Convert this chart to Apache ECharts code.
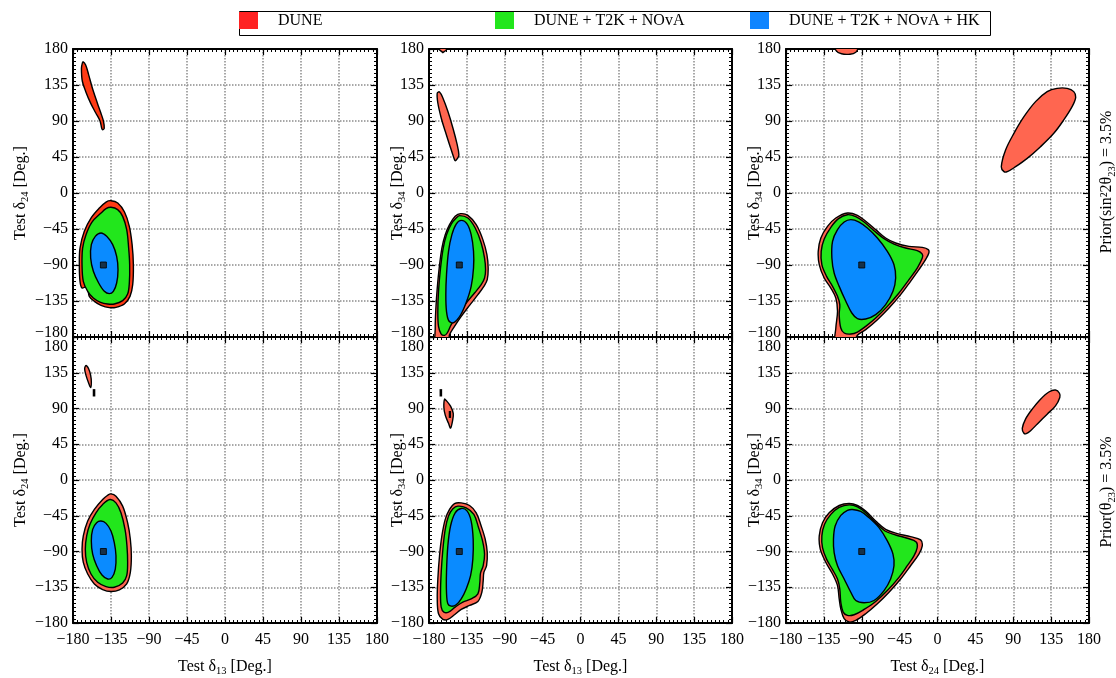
<!DOCTYPE html>
<html><head><meta charset="utf-8">
<script src="https://cdn.jsdelivr.net/npm/echarts@6/dist/echarts.min.js"></script>
<style>html,body{margin:0;padding:0;background:#fff}#c{width:1116px;height:678px}</style>
</head><body><div id="c"></div>
<script>
// ---------- data (degrees) ----------
const seriesNames = ['DUNE', 'DUNE + T2K + NOvA', 'DUNE + T2K + NOvA + HK'];
const xNames = ['Test δ{s|13} [Deg.]', 'Test δ{s|13} [Deg.]', 'Test δ{s|24} [Deg.]'];
const yNames = ['Test δ{s|24} [Deg.]', 'Test δ{s|34} [Deg.]', 'Test δ{s|34} [Deg.]'];
const rowLabels = ['Prior(sin²2θ{s|23}) = 3.5%', 'Prior(θ{s|23}) = 3.5%'];
const axisMin = -180, axisMax = 180, axisStep = 45;
const truePoints = [[[-144,-90]],[[-144,-90]],[[-90,-90]],[[-144,-90]],[[-144,-90]],[[-90,-90]]];

// Panel 1 (top-left)
const p1DuneA = [[-169,162],[-170,156],[-169,140],[-165,127],[-159,112],[-153,100],[-148,90],[-146,81],[-145,79],[-143,81],[-144,90],[-147,100],[-151,112],[-157,131],[-161.5,148],[-165,160],[-168,164]];
const p1DuneB = [[-135,-9.6],[-127,-12.5],[-119,-23.8],[-113.3,-41.7],[-110,-64.6],[-108.5,-89.6],[-109.3,-114.6],[-112.5,-129.2],[-119.2,-138.8],[-129,-142.9],[-137,-143.3],[-146.8,-140.4],[-154.7,-135.4],[-160.7,-129.2],[-162.6,-118.8],[-164.6,-117.1],[-169.3,-118.8],[-171.7,-110.4],[-172.5,-89.6],[-171.7,-68.8],[-166.6,-47.9],[-158.7,-31.3],[-148.8,-18.8],[-140.9,-11.3]];
const p1T2k = [[-135,-17.9],[-127.1,-20.8],[-121.2,-29.2],[-116.4,-45.8],[-114.1,-68.8],[-112.9,-89.6],[-113.3,-112.5],[-115.3,-126.3],[-121.2,-134.6],[-131.1,-138.8],[-138.9,-138.8],[-148,-136.3],[-155.9,-131.3],[-162.6,-122.9],[-167.8,-110.4],[-169.3,-89.6],[-168.6,-68.8],[-164.6,-52.1],[-157.5,-36.3],[-146.8,-25],[-140.9,-19.6]];
const p1Hk = [[-146.8,-50],[-140.1,-54.2],[-133,-64.6],[-128.3,-79.2],[-126.7,-95.8],[-128.3,-112.5],[-132.2,-122.9],[-137,-125.8],[-142.9,-122.9],[-149.6,-112.5],[-155.9,-97.9],[-159.1,-81.3],[-158.3,-64.6],[-153.6,-54.2]];

// Panel 2 (top-middle)
const p2DuneTop = [[-168,186],[-167.5,179],[-163.5,175.5],[-159.5,178.5],[-158.5,186]];
const p2DuneA = [[-170.2,125],[-169.5,112.5],[-165.5,93.8],[-160.7,77.1],[-155.6,60.4],[-150.4,43.8],[-148.9,40.4],[-145.7,43.8],[-144.5,47.9],[-146.5,60.4],[-151.6,81.3],[-157.6,102.1],[-163.5,118.8],[-167.5,126.3]];
const p2DuneB = [[-142.5,-25.8],[-133.8,-27.9],[-123.9,-39.6],[-116,-58.3],[-111.2,-77.1],[-109.7,-93.8],[-110.8,-108.3],[-114.8,-116.7],[-121.9,-127.1],[-131.8,-140.4],[-141.7,-154.2],[-149.7,-166.7],[-155.6,-177.1],[-157.6,-188],[-171.4,-188],[-172.6,-168.8],[-171.8,-143.8],[-170.2,-118.8],[-167.9,-93.8],[-164.7,-68.8],[-160.7,-52.1],[-155.6,-39.6],[-148.9,-29.2]];
const p2T2k = [[-143.7,-28.3],[-133.8,-31.3],[-125.1,-43.8],[-118,-62.5],[-114,-81.3],[-112.8,-95.8],[-114,-106.3],[-118,-114.6],[-125.9,-125],[-135.8,-137.5],[-145.7,-152.1],[-153.6,-164.6],[-158.4,-175],[-161.5,-177.9],[-165.5,-176.3],[-168.7,-166.7],[-169.5,-147.9],[-168.7,-122.9],[-166.3,-93.8],[-163.1,-68.8],[-159.2,-52.1],[-153.6,-38.8],[-147.7,-31.3]];
const p2Hk = [[-141.7,-34.2],[-134.6,-38.8],[-129.9,-52.1],[-127.1,-72.9],[-127.1,-93.8],[-129.9,-116.7],[-135.8,-137],[-142.7,-153],[-150.6,-162],[-156.3,-160],[-159.2,-148],[-160,-127.1],[-159.2,-102.1],[-156.8,-72.9],[-152.8,-52.1],[-147.7,-38.8]];

// Panel 3 (top-right)
const p3DuneTop = [[-121,186],[-120.5,178],[-114,174],[-104,173.5],[-97,176],[-94.5,181],[-94.5,186]];
const p3DuneA = [[79,26.7],[75.8,32.9],[80.9,53.8],[90.8,74.6],[102.7,95.4],[116.5,114.2],[130.3,126.7],[142.1,130.8],[154,130.8],[161.9,126.7],[164.2,119.6],[159.9,107.9],[150,91.3],[138.2,74.6],[122.4,57.9],[106.6,43.3],[92.8,32.9],[82.9,26.7]];
const p3DuneB = [[-107,-25],[-95.1,-27.9],[-85.3,-35.4],[-73.4,-45.8],[-61.6,-56.3],[-49.7,-62.5],[-33.9,-66.7],[-18.1,-67.9],[-11,-70.8],[-10.3,-75],[-14.2,-83.3],[-22.1,-95.8],[-32,-110.4],[-43.8,-127.1],[-57.6,-143.8],[-71.4,-158.3],[-85.3,-170.8],[-95.1,-177.9],[-101.1,-188],[-120.8,-188],[-120.8,-168.8],[-118.8,-147.9],[-120.8,-131.3],[-126.7,-118.8],[-134.6,-106.3],[-140.5,-89.6],[-141.7,-72.9],[-138.6,-56.3],[-130.7,-41.7],[-120.8,-31.3]];
const p3T2k = [[-107,-27.1],[-97.1,-29.6],[-87.2,-36.3],[-75.4,-47.1],[-63.5,-57.1],[-51.7,-63.8],[-37.9,-68.8],[-24.1,-72.1],[-18.1,-76.3],[-18.1,-81.3],[-24.1,-93.8],[-33.9,-108.3],[-45.8,-125],[-59.6,-141.7],[-73.4,-156.3],[-85.3,-166.7],[-95.1,-173.8],[-103,-176.3],[-110.9,-175],[-114.9,-168.8],[-116.8,-152.1],[-116.1,-139.6],[-118.8,-129.2],[-124.7,-116.7],[-131.8,-104.2],[-137.4,-89.6],[-138.2,-72.9],[-134.6,-57.5],[-126.7,-42.9],[-117.6,-32.1]];
const p3Hk = [[-103,-33.3],[-93.2,-36.3],[-83.3,-43.8],[-71.4,-56.3],[-59.6,-72.9],[-51.7,-89.6],[-49.7,-106.3],[-52.9,-122.9],[-61.6,-139.6],[-73.4,-152.1],[-85.3,-157.5],[-95.1,-157.1],[-101.8,-150],[-108.9,-135.4],[-116.8,-116.7],[-122.8,-100],[-125.5,-81.3],[-124.7,-60.4],[-118.8,-45.8],[-110.9,-36.3]];

// Panel 4 (bottom-left)
const p4DuneA = [[-164.6,144.2],[-161.5,140],[-159.1,131.7],[-158.3,123.3],[-159.1,116.3],[-161.5,122.1],[-164.6,131.7],[-166.2,140]];
const p4DuneDot = [[-155.8,106],[-154.4,106],[-154.4,113.5],[-155.8,113.5]];
const p4DuneB = [[-135,-17.5],[-129.1,-20.4],[-121.2,-32.9],[-115.3,-53.8],[-112.1,-74.6],[-110.9,-95.4],[-112.1,-116.3],[-116.4,-130.8],[-125.1,-138.3],[-135,-140.4],[-144.9,-137.9],[-154.7,-130.8],[-162.6,-118.3],[-167.8,-103.8],[-169.3,-87.1],[-167.8,-70.4],[-162.6,-51.7],[-154.7,-37.1],[-144.9,-24.6],[-138.9,-19.2]];
const p4T2k = [[-136.2,-24.6],[-129.1,-28.8],[-123.2,-41.3],[-118.4,-62.1],[-116.1,-82.9],[-115.3,-103.8],[-116.4,-120.4],[-121.2,-129.6],[-131.1,-135],[-140.9,-134.2],[-150.8,-128.8],[-158.7,-118.3],[-163.8,-103.8],[-165.4,-87.1],[-163.8,-70.4],[-159.9,-55.8],[-152.8,-41.3],[-144.9,-30.8]];
const p4Hk = [[-146.8,-51.7],[-140.9,-54.6],[-135,-64.2],[-131.1,-78.8],[-129.1,-95.4],[-129.9,-112.1],[-133.8,-122.5],[-138.9,-124.6],[-145.7,-119.6],[-152,-107.9],[-156.7,-93.3],[-158.3,-76.7],[-156.7,-62.1],[-152,-53.8]];

// Panel 5 (bottom-middle)
const p5DuneDot = [[-166.6,106],[-165.2,106],[-165.2,113.5],[-166.6,113.5]];
const p5DuneA = [[-161.5,101.7],[-159.2,99.6],[-154.4,92.9],[-151.2,83.8],[-152,74.6],[-154.4,65.4],[-156.8,71.3],[-160.7,81.7],[-162.3,91.3]];
const p5DuneDot2 = [[-155.7,79],[-154.6,79],[-154.6,86],[-155.7,86]];
const p5DuneB = [[-149.7,-29.6],[-141.7,-28.8],[-131.8,-32.1],[-123.9,-41.3],[-118,-57.9],[-113.2,-74.6],[-110.8,-91.3],[-111.6,-107.9],[-114.8,-116.3],[-115.6,-126.7],[-117.2,-141.3],[-121.9,-152.9],[-131.8,-157.9],[-141.7,-162.9],[-149.7,-169.6],[-157.6,-175.4],[-163.5,-175.4],[-168.7,-168.3],[-170.2,-149.6],[-169.5,-124.6],[-167.5,-95.4],[-164.7,-70.4],[-160.7,-49.6],[-155.6,-37.1]];
const p5T2k = [[-145.7,-32.9],[-135.8,-35],[-126.7,-43.3],[-121.1,-60],[-116.4,-76.7],[-114,-93.3],[-115.6,-107.9],[-118.8,-117.1],[-119.6,-128.8],[-121.9,-143.3],[-129.9,-149.6],[-139.8,-153.8],[-148.9,-160],[-156.8,-166.3],[-162.3,-166.3],[-165.5,-160],[-166.3,-141.3],[-165.5,-116.3],[-163.5,-87.1],[-160.7,-62.1],[-156.8,-45.4],[-151.6,-36.3]];
const p5Hk = [[-141.7,-35.8],[-134.6,-39.2],[-129.9,-51.7],[-127.5,-74.6],[-127.9,-99.6],[-130.6,-120.4],[-135.8,-137.1],[-141.7,-149.6],[-147.7,-157.1],[-153.6,-158.8],[-157.6,-155.8],[-159.2,-141.3],[-159.2,-116.3],[-157.6,-82.9],[-154.4,-57.9],[-148.9,-41.3]];

// Panel 6 (bottom-right)
const p6DuneA = [[102.7,58.8],[100.7,65],[104.6,76.7],[112.5,89.2],[122.4,101.7],[132.3,110.8],[140.2,113.3],[144.9,109.2],[145.3,103.8],[140.2,93.3],[130.3,82.9],[120.4,72.5],[110.6,62.1],[105.4,58.3]];
const p6DuneB = [[-105,-29.6],[-95.1,-32.1],[-85.3,-39.2],[-73.4,-51.7],[-61.6,-62.1],[-47.8,-67.5],[-32,-71.3],[-20.1,-75.4],[-18.1,-82.9],[-22.1,-93.3],[-32,-107.9],[-43.8,-124.6],[-57.6,-141.3],[-71.4,-155.8],[-85.3,-168.3],[-97.1,-176.7],[-105,-178.8],[-110.9,-174.6],[-114.9,-162.1],[-116.8,-149.6],[-118.8,-132.9],[-124.7,-118.3],[-132.6,-103.8],[-139.3,-87.1],[-140.5,-70.4],[-136.6,-53.8],[-128.7,-41.3],[-116.8,-32.1]];
const p6T2k = [[-105,-31.3],[-95.1,-33.8],[-85.3,-41.3],[-74.2,-52.9],[-62.4,-64.2],[-49.7,-69.2],[-35.9,-73.3],[-25.3,-77.9],[-24.1,-85],[-28,-95.4],[-35.9,-107.9],[-45.8,-122.5],[-59.6,-139.2],[-73.4,-152.9],[-87.2,-162.9],[-99.1,-169.6],[-107,-170.4],[-112.1,-166.3],[-114.9,-153.8],[-116.1,-137.1],[-118.8,-124.6],[-124.7,-112.9],[-131.8,-99.6],[-136.6,-85],[-137.4,-70.4],[-134.2,-55.8],[-126.7,-43.3],[-116.8,-34.6]];
const p6Hk = [[-101,-37.1],[-91.2,-39.6],[-81.3,-47.5],[-69.5,-60],[-59.6,-76.7],[-52.9,-93.3],[-51.7,-107.9],[-55.7,-124.6],[-63.5,-139.2],[-75.4,-151.7],[-87.2,-154.6],[-97.1,-151.7],[-103,-141.3],[-110.9,-124.6],[-118.8,-107.9],[-122.8,-91.3],[-123.6,-74.6],[-121.6,-57.9],[-114.9,-44.6],[-107,-38.3]];

// ---------- rendering ----------
const FONT = '"Liberation Serif", "DejaVu Serif", serif';
const FS = 16;
const C_RED1 = '#ff3a14', C_RED = '#ff6650', C_GREEN = '#22e61c', C_BLUE = '#0a8bff';
const subRich = { s: { fontSize: 10.5, fontFamily: FONT, color: '#000', verticalAlign: 'bottom', lineHeight: 21 } };
const fmt = v => (v < 0 ? '\u2212' + Math.abs(v) : String(v));

const panels = [
  { dune: [p1DuneA, p1DuneB], t2k: [p1T2k], hk: [p1Hk], red: C_RED1 },
  { dune: [p2DuneTop, p2DuneA, p2DuneB], t2k: [p2T2k], hk: [p2Hk], red: C_RED },
  { dune: [p3DuneTop, p3DuneA, p3DuneB], t2k: [p3T2k], hk: [p3Hk], red: C_RED },
  { dune: [p4DuneA, p4DuneDot, p4DuneB], t2k: [p4T2k], hk: [p4Hk], red: C_RED },
  { dune: [p5DuneDot, p5DuneA, p5DuneDot2, p5DuneB], t2k: [p5T2k], hk: [p5Hk], red: C_RED },
  { dune: [p6DuneA, p6DuneB], t2k: [p6T2k], hk: [p6Hk], red: C_RED }
];

const gridLefts = [73, 429, 786];
const gridTops = [49, 337];
const grids = [];
for (let r = 0; r < 2; r++) for (let c = 0; c < 3; c++)
  grids.push({ left: gridLefts[c], top: gridTops[r], width: c === 0 ? 304 : 303, height: 288 });

const lineStyle = { color: '#000', width: 2 };
const tickCfg = { show: true, inside: true, length: 6, lineStyle: { color: '#000', width: 1.2 } };
const minorCfg = { show: true, splitNumber: 9, length: 3, lineStyle: { color: '#000', width: 1 } };
const splitCfg = { show: true, lineStyle: { color: '#8c8c8c', type: 'dotted', width: 1.5 } };

const xAxis = [], yAxis = [];
grids.forEach((g, i) => {
  const row = Math.floor(i / 3), col = i % 3;
  const base = { type: 'value', gridIndex: i, min: axisMin, max: axisMax, interval: axisStep };
  xAxis.push({ ...base, position: 'bottom', axisLine: { onZero: false, lineStyle }, axisTick: tickCfg, minorTick: minorCfg, splitLine: splitCfg,
    axisLabel: { show: row === 1, formatter: fmt, fontFamily: FONT, fontSize: FS, color: '#000', margin: 9 },
    name: row === 1 ? xNames[col] : '', nameLocation: 'middle', nameGap: 33, nameMoveOverlap: false,
    nameTextStyle: { fontFamily: FONT, fontSize: FS, color: '#000', lineHeight: 21, rich: subRich } });
  xAxis.push({ ...base, position: 'top', axisLine: { onZero: false, lineStyle }, axisTick: tickCfg, minorTick: minorCfg, splitLine: { show: false }, axisLabel: { show: false } });
  const rich = { dn: { fontFamily: FONT, fontSize: FS, color: '#000', padding: [20, 0, 0, 0] }, up: { fontFamily: FONT, fontSize: FS, color: '#000', padding: [0, 0, 8, 0] } };
  yAxis.push({ ...base, position: 'left', axisLine: { onZero: false, lineStyle }, axisTick: tickCfg, minorTick: minorCfg, splitLine: splitCfg,
    axisLabel: { formatter: v => (row === 1 && v === 180 ? '{dn|180}' : row === 0 && v === -180 ? '{up|' + fmt(v) + '}' : fmt(v)), fontFamily: FONT, fontSize: FS, color: '#000', margin: 5, rich },
    name: yNames[col], nameLocation: 'middle', nameGap: col === 0 ? 42 : 21, nameRotate: 90, nameMoveOverlap: false,
    nameTextStyle: { fontFamily: FONT, fontSize: FS, color: '#000', lineHeight: 21, rich: subRich } });
  yAxis.push({ ...base, position: 'right', axisLine: { onZero: false, lineStyle }, axisTick: tickCfg, minorTick: minorCfg, splitLine: { show: false }, axisLabel: { show: false } });
});

function contour(name, panel, pts, fill) {
  return {
    type: 'custom', name, xAxisIndex: panel * 2, yAxisIndex: panel * 2, clip: true, silent: true,
    itemStyle: { color: fill }, data: pts, encode: { x: 0, y: 1 },
    renderItem(params, api) {
      if (params.dataIndex !== 0) return null;
      const points = pts.map(p => api.coord(p));
      return { type: 'polygon', shape: { points, smooth: pts.length > 6 ? 0.35 : 0 },
        style: { fill, stroke: '#000', lineWidth: 1.4 } };
    }
  };
}

const series = [];
panels.forEach((p, i) => {
  p.dune.forEach(pts => series.push(contour(seriesNames[0], i, pts, p.red)));
  p.t2k.forEach(pts => series.push(contour(seriesNames[1], i, pts, C_GREEN)));
  p.hk.forEach(pts => series.push(contour(seriesNames[2], i, pts, C_BLUE)));
  series.push({ type: 'scatter', name: 'true', xAxisIndex: i * 2, yAxisIndex: i * 2, data: truePoints[i], symbol: 'rect', symbolSize: 6,
    itemStyle: { color: '#1a1a1a', borderColor: '#000', borderWidth: 1 }, silent: true, z: 5 });
});

const legendColors = ['#ff2222', '#22e61c', '#0f85ff'];
const legendLefts = [239, 495, 750];
const legend = seriesNames.map((n, k) => ({
  data: [{ name: n, itemStyle: { color: legendColors[k] } }], left: legendLefts[k], top: 12, padding: 0,
  icon: 'rect', itemWidth: 19, itemHeight: 17, selectedMode: false,
  textStyle: { fontFamily: FONT, fontSize: FS, color: '#000', padding: [0, 0, 0, 15] }
}));

const chart = echarts.init(document.getElementById('c'), null, { renderer: 'canvas' });
chart.setOption({
  animation: false, backgroundColor: '#fff',
  grid: grids, xAxis, yAxis, series, legend,
  graphic: [
    { type: 'rect', left: 237, top: 9, shape: { width: 751, height: 24 }, style: { fill: 'none', stroke: '#000', lineWidth: 1 }, silent: true },
    { type: 'text', x: 1107, y: 182, rotation: Math.PI / 2, style: { text: rowLabels[0], font: FS + 'px ' + FONT, fill: '#000', align: 'center', verticalAlign: 'middle', rich: subRich } },
    { type: 'text', x: 1107, y: 492, rotation: Math.PI / 2, style: { text: rowLabels[1], font: FS + 'px ' + FONT, fill: '#000', align: 'center', verticalAlign: 'middle', rich: subRich } }
  ]
});
</script></body></html>
